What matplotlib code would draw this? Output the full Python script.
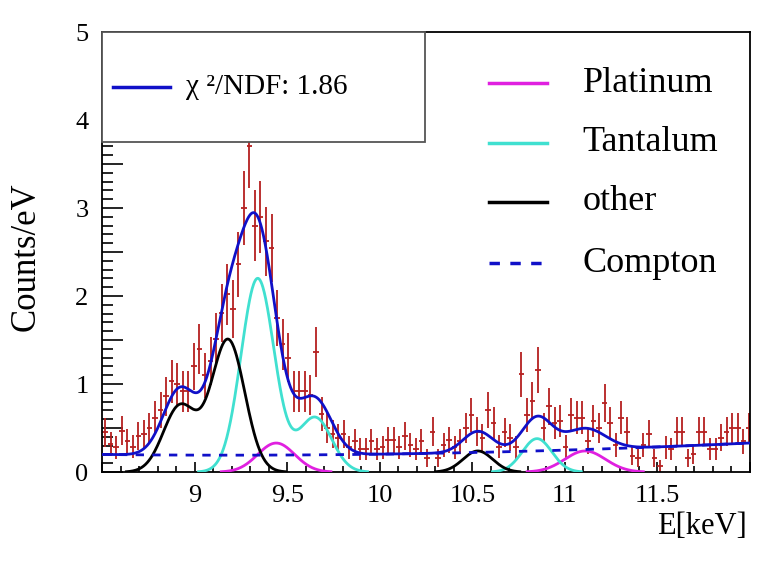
import numpy as np
import matplotlib
matplotlib.use("Agg")
import matplotlib.pyplot as plt
from matplotlib.ticker import MultipleLocator, FuncFormatter
from matplotlib.patches import Rectangle

plt.rcParams['font.family'] = ['Liberation Serif', 'DejaVu Serif']

# measured spectrum: counts/eV per 30 eV bin, first bin centre 8.515 keV
bin_width = 0.03
first_center = 8.515
counts_per_ev = [
    0.45, 0.32, 0.28, 0.47, 0.35, 0.29, 0.41, 0.43, 0.50, 0.62,
    0.71, 0.86, 1.03, 1.00, 0.92, 0.92, 1.20, 1.40, 1.10, 1.26,
    1.51, 1.81, 2.02, 1.85, 2.36, 3.00, 3.70, 2.80, 2.90, 2.62,
    2.55, 1.75, 1.45, 1.30, 0.92, 0.92, 0.92, 0.88, 1.36, 0.66,
    0.50, 0.43, 0.39, 0.43, 0.28, 0.35, 0.26, 0.26, 0.35, 0.26,
    0.28, 0.37, 0.37, 0.28, 0.41, 0.31, 0.26, 0.35, 0.16, 0.46,
    0.16, 0.31, 0.37, 0.28, 0.35, 0.50, 0.65, 0.46, 0.39, 0.71,
    0.56, 0.29, 0.45, 0.39, 0.28, 1.11, 0.65, 0.81, 1.16, 0.50,
    0.75, 0.56, 0.58, 0.29, 0.65, 0.62, 0.62, 0.35, 0.58, 0.50,
    0.79, 0.56, 0.31, 0.62, 0.46, 0.18, 0.16, 0.31, 0.43, 0.16,
    0.07, 0.28, 0.26, 0.46, 0.46, 0.16, 0.20, 0.46, 0.46, 0.26,
    0.26, 0.39, 0.46, 0.50, 0.50, 0.35, 0.50]
eff_bin_ev = 17.0   # effective counts per unit for Poisson errors

# fitted gaussian components (centre keV, amplitude counts/eV, sigma keV)
plat_mu = [9.44, 11.11]
plat_amp = [0.33, 0.24]
plat_sig = [0.10, 0.11]

tant_mu = [9.34, 9.65, 10.85]
tant_amp = [2.20, 0.62, 0.38]
tant_sig = [0.09, 0.09, 0.08]

other_mu = [8.92, 9.18, 10.53]
other_amp = [0.75, 1.50, 0.24]
other_sig = [0.09, 0.09, 0.08]

# compton background: p0 + p1*(E-8.5) + p2*(E-8.5)^2
compton_p = [0.20, -0.0237, 0.0174]

chi2_text = "χ ²/NDF: 1.86"
legend_names = ["Platinum", "Tantalum", "other", "Compton"]


def gauss_sum(x, mus, amps, sigs):
    out = np.zeros_like(x)
    for m, a, s in zip(mus, amps, sigs):
        out += a * np.exp(-0.5 * ((x - m) / s) ** 2)
    return out


y = np.array(counts_per_ev)
centers = first_center + bin_width * np.arange(len(y))
yerr = np.sqrt(y / eff_bin_ev)

E = np.linspace(8.5, 12.0, 1400)
plat = gauss_sum(E, plat_mu, plat_amp, plat_sig)
tant = gauss_sum(E, tant_mu, tant_amp, tant_sig)
other = gauss_sum(E, other_mu, other_amp, other_sig)
compton = compton_p[0] + compton_p[1] * (E - 8.5) + compton_p[2] * (E - 8.5) ** 2
total = plat + tant + other + compton

def hide_zero(v):
    v = v.copy()
    v[v < 0.004] = np.nan
    return v

fig = plt.figure(figsize=(7.81, 5.62), dpi=100)
ax = fig.add_axes([0.131, 0.160, 0.829, 0.783])

ax.errorbar(centers, y, xerr=bin_width / 2, yerr=yerr, fmt='none',
            ecolor='#b52020', elinewidth=1.3, capsize=0, zorder=2)

ax.plot(E, hide_zero(plat), color='#e020e0', lw=2, zorder=3)
ax.plot(E, hide_zero(tant), color='#40e0d0', lw=2, zorder=3)
ax.plot(E, hide_zero(other), color='black', lw=2, zorder=3)
ax.plot(E, compton, color='#1010c8', lw=2, ls=(0, (3, 3)), zorder=3)
ax.plot(E, total, color='#1010c8', lw=2, zorder=4)

ax.set_xlim(8.5, 12.0)
ax.set_ylim(0, 5)

ax.xaxis.set_major_locator(MultipleLocator(0.5))
ax.xaxis.set_minor_locator(MultipleLocator(0.1))
ax.yaxis.set_major_locator(MultipleLocator(0.5))
ax.yaxis.set_minor_locator(MultipleLocator(0.1))
ax.xaxis.set_major_formatter(FuncFormatter(
    lambda v, p: "" if v < 8.9 or v > 11.6 else ("%g" % v)))
ax.yaxis.set_major_formatter(FuncFormatter(
    lambda v, p: ("%d" % round(v)) if abs(v - round(v)) < 1e-6 else ""))

ax.tick_params(axis='both', which='both', direction='in', top=False, right=False,
               labelsize=19, color='black')
ax.tick_params(axis='y', which='major', length=15, width=1.2, pad=10)
ax.tick_params(axis='y', which='minor', length=8, width=1.2)
ax.tick_params(axis='x', which='major', length=7, width=1.2, pad=9)
ax.tick_params(axis='x', which='minor', length=4, width=1.2)
for s in ax.spines.values():
    s.set_linewidth(1.3)

ax.set_ylabel("Counts/eV", fontsize=25)
ax.yaxis.set_label_coords(-0.092, 0.49)
ax.set_xlabel("E[keV]", fontsize=22, ha='right')
ax.xaxis.set_label_coords(0.995, -0.09)

# chi2 box (opaque, covers data)
ax.add_patch(Rectangle((0, 0.75), 0.498, 0.25, transform=ax.transAxes,
                       facecolor='white', edgecolor='#555555', lw=1.3,
                       zorder=10, clip_on=False))
ax.plot([0.016, 0.104], [0.875, 0.875], transform=ax.transAxes,
        color='#1010c8', lw=2.5, zorder=11)
ax.text(0.13, 0.875, chi2_text, transform=ax.transAxes, fontsize=21,
        va='center', ha='left', zorder=11)

# component legend
leg_colors = ['#e020e0', '#40e0d0', 'black', '#1010c8']
leg_styles = ['-', '-', '-', (0, (3, 3))]
leg_y = [0.884, 0.748, 0.614, 0.475]
for name, c, st, yy in zip(legend_names, leg_colors, leg_styles, leg_y):
    ax.plot([0.598, 0.687], [yy, yy], transform=ax.transAxes, color=c,
            lw=2.5, ls=st, zorder=11)
    ax.text(0.742, yy, name, transform=ax.transAxes, fontsize=26,
            va='center', ha='left', zorder=11)

fig.savefig("out.png", dpi=100)
